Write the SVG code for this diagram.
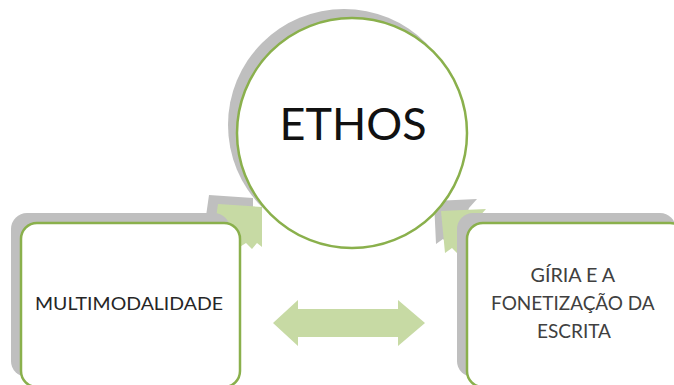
<svg xmlns="http://www.w3.org/2000/svg" width="674" height="385" viewBox="0 0 674 385">
  <style>
    .shadow { fill: #BFBFBF; stroke: none; }
    .node { fill: #FFFFFF; stroke: #8AB04C; stroke-width: 2.5; }
    .arrow { fill: #C7DAA4; stroke: none; }
    .label { font-family: Lato, "Open Sans", "Liberation Sans", sans-serif; text-anchor: middle; }
  </style>
  <rect width="674" height="385" fill="#FFFFFF"/>

  <!-- circle shadow -->
  <circle class="shadow" cx="344" cy="125" r="116"/>

  <!-- connectors -->
  <g id="connectors">
    <!-- curved arrow heads from the boxes toward the circle -->
    <polygon class="shadow" points="209,195 253,198 253,238 248,234 243,240 237,234 226,241 206,216"/>
    <polygon class="shadow" points="434,201 477,199 469,208 461,231 453,237 448,244 443,239 436,244"/>
    <polygon class="arrow" points="218,204 262,207 262,247 257,243 252,249 246,243 235,250 215,225"/>
    <polygon class="arrow" points="441,211 486,209 478,218 470,240 462,246 457,253 452,248 445,253"/>
    <!-- double arrow between the boxes -->
    <polygon class="arrow" points="273,323 298,300 298,309 398,309 398,300 425,323 398,346 398,337 298,337 298,346"/>
  </g>

  <g id="ethos">
    <circle class="node" cx="352" cy="133" r="115"/>
    <text class="label" x="353" y="140" font-size="44" fill="#111111" textLength="147" lengthAdjust="spacingAndGlyphs">ETHOS</text>
  </g>

  <g id="multimodalidade">
    <rect class="shadow" x="11" y="213" width="219" height="164" rx="16"/>
    <rect class="node" x="21" y="223" width="219" height="164" rx="16"/>
    <text class="label" x="129" y="310" font-size="18" fill="#262626" textLength="188" lengthAdjust="spacingAndGlyphs">MULTIMODALIDADE</text>
  </g>

  <g id="giria">
    <rect class="shadow" x="457" y="213" width="219" height="164" rx="16"/>
    <rect class="node" x="467" y="223" width="219" height="164" rx="16"/>
    <text class="label" font-size="19" fill="#404040">
      <tspan x="575" y="282" textLength="84" lengthAdjust="spacingAndGlyphs">GÍRIA E A</tspan>
      <tspan x="575" y="310" textLength="163" lengthAdjust="spacingAndGlyphs">FONETIZAÇÃO DA</tspan>
      <tspan x="574" y="338" textLength="74" lengthAdjust="spacingAndGlyphs">ESCRITA</tspan>
    </text>
  </g>
</svg>
